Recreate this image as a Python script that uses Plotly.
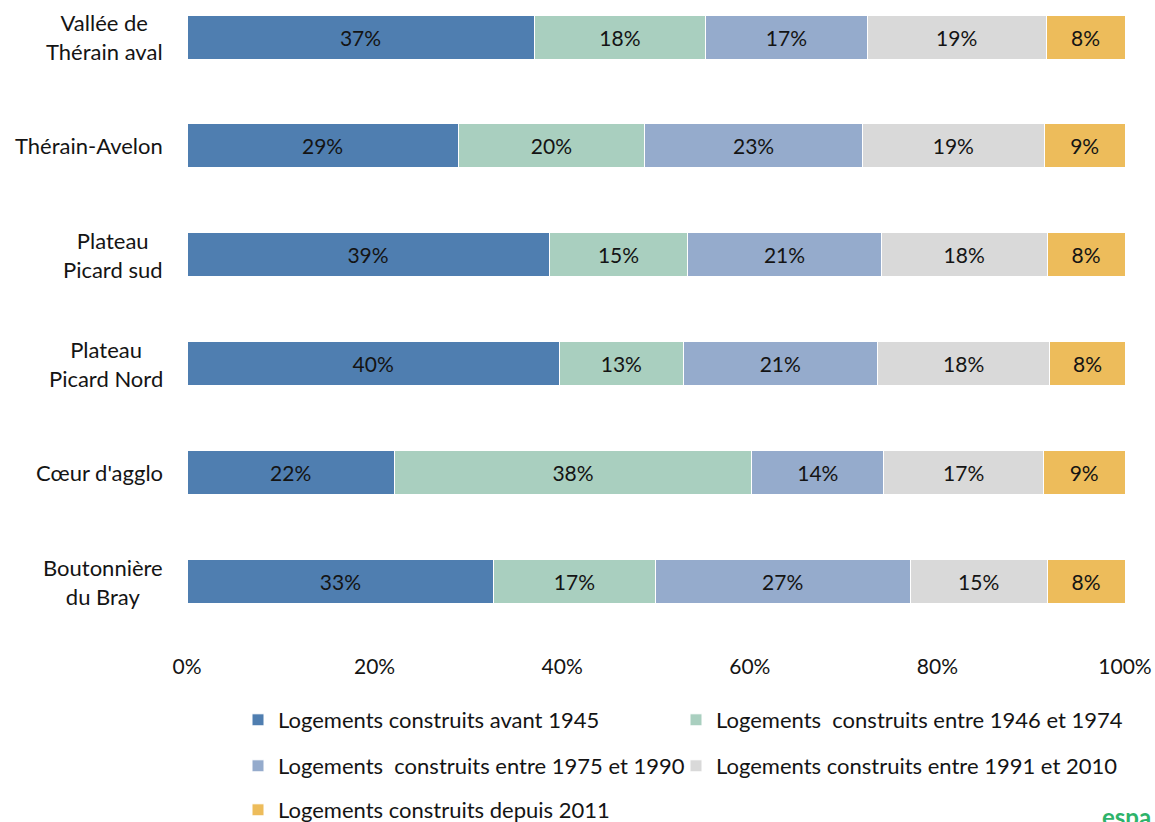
import plotly.graph_objects as go

# Housing stock by construction period, per territory (share of dwellings, %)
territoires = [
    "Vallée de<br>Thérain aval",
    "Thérain-Avelon",
    "Plateau<br>Picard sud",
    "Plateau<br>Picard Nord",
    "Cœur d'agglo",
    "Boutonnière<br>du Bray",
]

avant_1945 = [37.0, 28.9, 38.6, 39.7, 22.1, 32.7]
de_1946_1974 = [18.3, 19.9, 14.8, 13.2, 38.1, 17.2]
de_1975_1990 = [17.2, 23.2, 20.6, 20.7, 14.1, 27.2]
de_1991_2010 = [19.1, 19.4, 17.7, 18.4, 17.0, 14.6]
depuis_2011 = [8.4, 8.6, 8.3, 8.0, 8.7, 8.3]

# name, values, colour
series = [
    ("Logements construits avant 1945", avant_1945, "#4F7EB0"),
    ("Logements  construits entre 1946 et 1974", de_1946_1974, "#A9CFBF"),
    ("Logements  construits entre 1975 et 1990", de_1975_1990, "#95ABCC"),
    ("Logements construits entre 1991 et 2010", de_1991_2010, "#D9D9D9"),
    ("Logements construits depuis 2011", depuis_2011, "#EDBC5B"),
]

# Legend grid: two columns, three rows (left edge / row centre in px)
legend_cols = [238, 676]
legend_rows = [720, 766, 810]

x_ticks = [0, 20, 40, 60, 80, 100]
x_tick_labels = [f"{t}%" for t in x_ticks]

FONT = "Lato, 'Open Sans', sans-serif"
TEXT = "#141414"

fig = go.Figure()
legends = {}
for i, (name, values, color) in enumerate(series):
    key = "legend" if i == 0 else f"legend{i + 1}"
    fig.add_trace(go.Bar(
        y=territoires,
        x=values,
        name=name,
        legend=key,
        orientation="h",
        marker=dict(color=color, line=dict(color="white", width=1)),
        texttemplate="%{x:.0f}%",
        textposition="inside",
        insidetextanchor="middle",
        textangle=0,
        constraintext="none",
        textfont=dict(family=FONT, size=21, color=TEXT),
        hoverinfo="skip",
    ))
    legends[key] = dict(
        orientation="h",
        xref="container", yref="container",
        x=legend_cols[i % 2] / 1155, xanchor="left",
        y=1 - legend_rows[i // 2] / 822, yanchor="middle",
        font=dict(family=FONT, size=22, color=TEXT),
        bgcolor="rgba(0,0,0,0)",
    )

# Category labels, centred line by line
for t in territoires:
    fig.add_annotation(
        x=0, xref="paper", xanchor="right", xshift=-22,
        y=t, yref="y", yanchor="middle",
        text=t, align="center", showarrow=False,
        font=dict(family=FONT, size=22, color=TEXT),
    )

# Publisher mark in the bottom corner
fig.add_annotation(
    x=0.973, xref="paper", xanchor="left",
    y=-0.258, yref="paper", yanchor="top",
    text="<b>espa</b>", showarrow=False,
    font=dict(family=FONT, size=24, color="#2DB36A"),
)

fig.update_layout(
    barmode="stack",
    bargap=0.596,
    width=1155,
    height=822,
    margin=dict(l=187, r=30, t=0, b=186),
    paper_bgcolor="white",
    plot_bgcolor="white",
    font=dict(family=FONT, size=21, color=TEXT),
    showlegend=True,
    xaxis=dict(
        range=[0, 100],
        tickvals=x_ticks,
        ticktext=x_tick_labels,
        showgrid=False,
        zeroline=False,
        showline=False,
        ticks="outside", ticklen=12, tickcolor="rgba(0,0,0,0)",
        tickfont=dict(family=FONT, size=21, color=TEXT),
        fixedrange=True,
    ),
    yaxis=dict(
        categoryorder="array",
        categoryarray=territoires,
        range=[5.5, -0.34],
        showticklabels=False,
        showgrid=False,
        zeroline=False,
        showline=False,
        fixedrange=True,
    ),
    **legends,
)

fig.write_html("out.html")
